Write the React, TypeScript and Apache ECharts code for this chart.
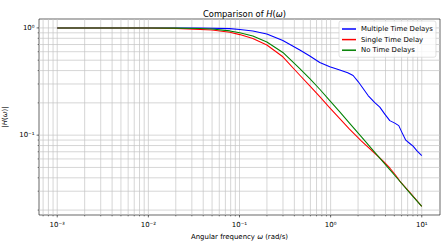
import React, { useEffect, useRef } from "react";
import * as echarts from "echarts";

const FONT = "DejaVu Sans";

// axis extents (log10: -3.2 .. 1.2 and -1.745 .. 0.083)
const X_MIN = 0.000631;
const X_MAX = 15.85;
const Y_MIN = 0.018;
const Y_MAX = 1.211;

const seriesNames = ["Multiple Time Delays", "Single Time Delay", "No Time Delays"];
const seriesColors = ["#0000ff", "#ff0000", "#008000"];

const freqMultiple = [0.001, 0.01, 0.0367, 0.0783, 0.1008, 0.14, 0.1996, 0.299, 0.459, 0.591, 0.76, 0.979, 1.26, 1.54, 1.765, 2.002, 2.272, 2.577, 3.052, 3.463, 3.929, 4.458, 5.057, 5.594, 6.036, 6.677, 7.386, 8.029, 8.815, 10];
const magMultiple = [1, 1, 0.998, 0.985, 0.968, 0.937, 0.879, 0.764, 0.623, 0.547, 0.476, 0.434, 0.405, 0.382, 0.36, 0.316, 0.272, 0.234, 0.201, 0.1827, 0.157, 0.1366, 0.1295, 0.1227, 0.1067, 0.0898, 0.0836, 0.0789, 0.0716, 0.0643];

const freqSingle = [0.001, 0.01, 0.02, 0.05, 0.0783, 0.1008, 0.14, 0.1996, 0.299, 0.459, 0.591, 0.76, 0.979, 1.26, 1.6, 2.18, 3.052, 3.8, 4.458, 5.2, 5.9, 7.6, 10];
const magSingle = [1, 0.997, 0.99, 0.958, 0.91, 0.866, 0.798, 0.693, 0.538, 0.362, 0.288, 0.2286, 0.1796, 0.1423, 0.1144, 0.088, 0.0678, 0.0569, 0.0494, 0.042, 0.0362, 0.0285, 0.0217];

const freqNone = [0.001, 0.01, 0.02, 0.0367, 0.05, 0.0783, 0.1008, 0.14, 0.1996, 0.299, 0.459, 0.591, 0.76, 0.979, 1.26, 1.6, 2.18, 3.052, 4.458, 5.5, 7.386, 10];
const magNone = [1, 0.999, 0.995, 0.986, 0.975, 0.938, 0.902, 0.84, 0.74, 0.59, 0.418, 0.336, 0.268, 0.21, 0.1645, 0.13, 0.0962, 0.0692, 0.0477, 0.0388, 0.029, 0.0217];

const xDecades = [0.0001, 0.001, 0.01, 0.1, 1, 10];
const yDecades = [0.01, 0.1, 1];
const minorMultipliers = [2, 3, 4, 5, 6, 7, 8, 9];

type Tick = { v: number; major: boolean };

function buildTicks(decades: number[], lo: number, hi: number): Tick[] {
  const ticks: Tick[] = [];
  decades.forEach((d) => {
    if (d >= lo && d <= hi) ticks.push({ v: d, major: true });
    minorMultipliers.forEach((m) => {
      const v = d * m;
      if (v >= lo && v <= hi) ticks.push({ v, major: false });
    });
  });
  return ticks;
}

const SUP: Record<string, string> = { "-": "\u207B", "0": "\u2070", "1": "\u00B9", "2": "\u00B2", "3": "\u00B3", "4": "\u2074", "5": "\u2075", "6": "\u2076", "7": "\u2077", "8": "\u2078", "9": "\u2079" };

function logLabel(v: number): string {
  const e = Math.log10(v);
  const r = Math.round(e);
  if (Math.abs(e - r) > 0.01) return "";
  return "10" + String(r).split("").map((c) => SUP[c] || c).join("");
}

export default function App() {
  const ref = useRef<HTMLDivElement>(null);

  useEffect(() => {
    if (!ref.current) return;
    const chart = echarts.init(ref.current, undefined, { renderer: "svg" });
    const xTicks = buildTicks(xDecades, X_MIN, X_MAX);
    const yTicks = buildTicks(yDecades, Y_MIN, Y_MAX);
    const gridColor = "#c4c4c4";

    const lineData = [
      freqMultiple.map((f, i) => [f, magMultiple[i]]),
      freqSingle.map((f, i) => [f, magSingle[i]]),
      freqNone.map((f, i) => [f, magNone[i]]),
    ];

    const option: any = {
      animation: false,
      backgroundColor: "#ffffff",
      textStyle: { fontFamily: FONT },
      title: {
        text: "Comparison of {i|H}({i|ω})",
        left: 239.5,
        textAlign: "center",
        top: 4.5,
        textStyle: {
          fontSize: 8.33,
          fontWeight: "normal",
          color: "#000",
          fontFamily: FONT,
          rich: { i: { fontStyle: "italic", fontSize: 8.33, fontFamily: FONT, color: "#000" } },
        },
      },
      grid: {
        left: 39,
        right: 8,
        top: 19,
        bottom: 37,
        show: true,
        borderColor: "#000",
        borderWidth: 0.6,
        backgroundColor: "transparent",
        containLabel: false,
        outerBoundsMode: "none",
      },
      legend: {
        data: seriesNames,
        orient: "vertical",
        left: 339,
        top: 21,
        padding: [4, 3, 3, 3],
        itemWidth: 14,
        itemHeight: 1.5,
        icon: "rect",
        itemGap: 2.6,
        textStyle: { fontSize: 6.9, fontFamily: FONT, color: "#000", lineHeight: 8 },
        backgroundColor: "rgba(255,255,255,0.8)",
        borderColor: "#cccccc",
        borderWidth: 0.6,
        borderRadius: 2,
      },
      xAxis: {
        type: "log",
        logBase: 10,
        min: X_MIN,
        max: X_MAX,
        axisLine: { show: false },
        axisTick: { show: false },
        splitLine: { show: false },
        axisLabel: {
          formatter: logLabel,
          showMinLabel: false,
          showMaxLabel: false,
          fontSize: 6.94,
          fontFamily: FONT,
          color: "#000",
          margin: 6,
        },
        name: "Angular frequency {i|ω} (rad/s)",
        nameLocation: "middle",
        nameGap: 18,
        nameTextStyle: {
          fontSize: 6.94,
          fontFamily: FONT,
          color: "#000",
          rich: { i: { fontStyle: "italic", fontSize: 6.94, fontFamily: FONT, color: "#000" } },
        },
      },
      yAxis: {
        type: "log",
        logBase: 10,
        min: Y_MIN,
        max: Y_MAX,
        axisLine: { show: false },
        axisTick: { show: false },
        splitLine: { show: false },
        axisLabel: {
          formatter: logLabel,
          showMinLabel: false,
          showMaxLabel: false,
          fontSize: 6.94,
          fontFamily: FONT,
          color: "#000",
          margin: 4.5,
        },
        name: "|{i|H}({i|ω})|",
        nameLocation: "middle",
        nameRotate: 90,
        nameGap: 22,
        nameTextStyle: {
          fontSize: 6.94,
          fontFamily: FONT,
          color: "#000",
          rich: { i: { fontStyle: "italic", fontSize: 6.94, fontFamily: FONT, color: "#000" } },
        },
      },
      series: [
        {
          type: "custom",
          name: "xgrid",
          silent: true,
          z: 1,
          clip: false,
          data: xTicks.map((t) => [t.v, 1]),
          renderItem: (params: any, api: any) => {
            const t = xTicks[params.dataIndex];
            const cs = params.coordSys;
            const px = api.coord([t.v, 1])[0];
            const bottom = cs.y + cs.height;
            const len = t.major ? 2.4 : 1.4;
            return {
              type: "group",
              children: [
                { type: "line", shape: { x1: px, y1: cs.y, x2: px, y2: bottom }, style: { stroke: gridColor, lineWidth: 0.7 } },
                { type: "line", shape: { x1: px, y1: bottom, x2: px, y2: bottom + len }, style: { stroke: "#000", lineWidth: t.major ? 0.6 : 0.45 } },
              ],
            };
          },
        },
        {
          type: "custom",
          name: "ygrid",
          silent: true,
          z: 1,
          clip: false,
          data: yTicks.map((t) => [1, t.v]),
          renderItem: (params: any, api: any) => {
            const t = yTicks[params.dataIndex];
            const cs = params.coordSys;
            const py = api.coord([1, t.v])[1];
            const left = cs.x;
            const len = t.major ? 2.4 : 1.4;
            return {
              type: "group",
              children: [
                { type: "line", shape: { x1: left, y1: py, x2: left + cs.width, y2: py }, style: { stroke: gridColor, lineWidth: 0.7 } },
                { type: "line", shape: { x1: left - len, y1: py, x2: left, y2: py }, style: { stroke: "#000", lineWidth: t.major ? 0.6 : 0.45 } },
              ],
            };
          },
        },
        ...seriesNames.map((name, k) => ({
          type: "line",
          name,
          data: lineData[k],
          showSymbol: false,
          symbol: "none",
          smooth: false,
          z: 3 + k,
          lineStyle: { color: seriesColors[k], width: 1.05, join: "round" },
          itemStyle: { color: seriesColors[k] },
        })),
      ],
    };

    chart.setOption(option);
    return () => {
      chart.dispose();
    };
  }, []);

  return (
    <div
      ref={ref}
      style={{ position: "fixed", left: 0, top: 0, width: 448, height: 252, background: "#fff" }}
    />
  );
}
